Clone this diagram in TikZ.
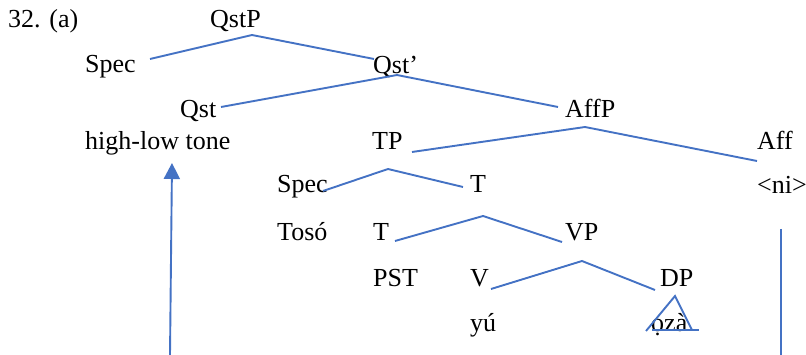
\documentclass[tikz,border=0pt]{standalone}
\usepackage{fontspec}
\setmainfont{Liberation Serif}
\usetikzlibrary{arrows.meta}
\definecolor{lineblue}{HTML}{4472C4}
\begin{document}
\begin{tikzpicture}[x=1pt,y=-1pt,
  lbl/.style={anchor=base west,inner sep=0pt,font=\fontsize{26}{30}\selectfont},
  branch/.style={draw=lineblue,line width=1.9pt,line join=miter},
  pointer/.style={draw=lineblue,line width=1.9pt,-{Triangle[width=16pt,length=16pt,fill=lineblue]}}
  ]
\useasboundingbox (0,0) rectangle (806,355);
% labels
\node[lbl] (num)   at (8,28)    {32. (a)};
\node[lbl] (qstp)  at (210,28)  {QstP};
\node[lbl] (spec1) at (85,73)   {Spec};
\node[lbl] (qstb)  at (373,74)  {Qst’};
\node[lbl] (qst)   at (180,118) {Qst};
\node[lbl] (affp)  at (565,118) {AffP};
\node[lbl] (hlt)   at (85,150)  {high-low tone};
\node[lbl] (tp)    at (372,150) {TP};
\node[lbl] (aff)   at (757,150) {Aff};
\node[lbl] (spec2) at (277,193) {Spec};
\node[lbl] (tbar)  at (470,193) {T};
\node[lbl] (ni)    at (757,194) {<ni>};
\node[lbl] (toso)  at (277,241) {Tosó};
\node[lbl] (t)     at (373,241) {T};
\node[lbl] (vp)    at (565,241) {VP};
\node[lbl] (pst)   at (373,287) {PST};
\node[lbl] (v)     at (470,287) {V};
\node[lbl] (dp)    at (660,287) {DP};
\node[lbl] (yu)    at (470,331) {yú};
\node[lbl] (oza)   at (651,331) {ọzà};
% branch points
\coordinate (a1) at (252,35);
\coordinate (a1l) at (150,59);
\coordinate (a1r) at (374,59);
\coordinate (a2) at (397,75);
\coordinate (a2l) at (221,107);
\coordinate (a2r) at (558,107);
\coordinate (a3) at (585,127);
\coordinate (a3l) at (412,152);
\coordinate (a3r) at (757,161);
\coordinate (a4) at (388,169);
\coordinate (a4l) at (323,191);
\coordinate (a4r) at (463,187);
\coordinate (a5) at (483,216);
\coordinate (a5l) at (395,241);
\coordinate (a5r) at (562,242);
\coordinate (a6) at (582,261);
\coordinate (a6l) at (491,289);
\coordinate (a6r) at (655,290);
\coordinate (tri) at (675,296);
\coordinate (tril) at (646,331);
\coordinate (trir) at (692,330);
\coordinate (bl) at (652,330);
\coordinate (br) at (699,330);
\coordinate (arrfoot) at (170,355);
\coordinate (arrtip) at (172,163);
\coordinate (vtop) at (781,229);
\coordinate (vfoot) at (781,355);
% connectors
\draw[branch] (a1l) -- (a1) -- (a1r);
\draw[branch] (a2l) -- (a2) -- (a2r);
\draw[branch] (a3l) -- (a3) -- (a3r);
\draw[branch] (a4l) -- (a4) -- (a4r);
\draw[branch] (a5l) -- (a5) -- (a5r);
\draw[branch] (a6l) -- (a6) -- (a6r);
\draw[branch] (tril) -- (tri) -- (trir);
\draw[branch] (bl) -- (br);
\draw[pointer] (arrfoot) -- (arrtip);
\draw[branch] (vtop) -- (vfoot);
\end{tikzpicture}
\end{document}
